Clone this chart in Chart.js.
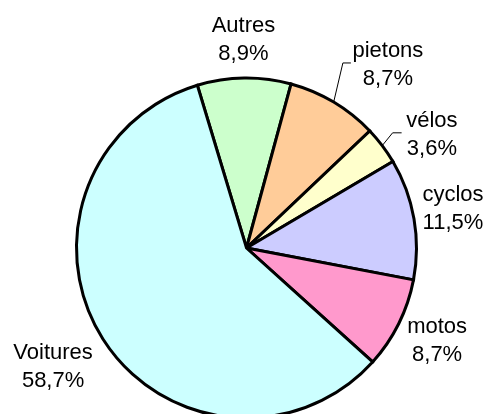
<!DOCTYPE html>
<html>
<head>
<meta charset="utf-8">
<script src="https://cdn.jsdelivr.net/npm/chart.js@4"></script>
<style>
  html, body { margin: 0; padding: 0; background: #fff; overflow: hidden; width: 487px; height: 414px; }
  canvas { display: block; }
</style>
</head>
<body>
<canvas id="c" width="487" height="430"></canvas>
<script>
// ---- data ----
const categories = ["Autres", "pietons", "vélos", "cyclos", "motos", "Voitures"];
const shares = [8.9, 8.7, 3.6, 11.5, 8.7, 58.7];

// ---- styles ----
const sliceColors = ["#CCFFCC", "#FFCC99", "#FFFFCC", "#CCCCFF", "#FF99CC", "#CCFFFF"];
// label nudges (from slice edge point at mid-angle to label first-line baseline centre)
const labelNudge = [[-0.7, -46], [54.2, -45.1], [49.7, -18.8], [39, -17.4], [38.4, 9.2], [-49.8, 20]];
// leader elbow relative to label anchor: [elbowDx, endDx, dy] or null
const leaders = [null, [-45, -37, 6], [-39.3, -30.3, 6], null, null, null];
const FONT = '22px "Liberation Sans", Arial, sans-serif';
const LINE_H = 28;

const labelPlugin = {
  id: 'outLabels',
  afterDatasetsDraw(chart) {
    const ctx = chart.ctx;
    const meta = chart.getDatasetMeta(0);
    ctx.save();
    ctx.font = FONT;
    ctx.fillStyle = '#000';
    ctx.textAlign = 'center';
    ctx.textBaseline = 'alphabetic';
    meta.data.forEach((arc, i) => {
      const p = arc.getProps(['x', 'y', 'startAngle', 'endAngle', 'outerRadius'], true);
      const mid = (p.startAngle + p.endAngle) / 2;
      const ex = p.x + Math.cos(mid) * p.outerRadius;
      const ey = p.y + Math.sin(mid) * p.outerRadius;
      const lx = ex + labelNudge[i][0];
      const ly = ey + labelNudge[i][1];
      const txt = shares[i].toFixed(1).replace('.', ',') + '%';
      ctx.fillText(categories[i], lx, ly);
      ctx.fillText(txt, lx, ly + LINE_H);
      const L = leaders[i];
      if (L) {
        ctx.beginPath();
        ctx.strokeStyle = '#000';
        ctx.lineWidth = 1;
        ctx.moveTo(ex, ey);
        ctx.lineTo(lx + L[0], ly + L[2]);
        ctx.lineTo(lx + L[1], ly + L[2]);
        ctx.stroke();
      }
    });
    ctx.restore();
  }
};

new Chart(document.getElementById('c'), {
  type: 'pie',
  data: {
    labels: categories,
    datasets: [{
      data: shares,
      backgroundColor: sliceColors,
      borderColor: '#000',
      borderWidth: 3,
      borderJoinStyle: 'miter'
    }]
  },
  options: {
    responsive: false,
    animation: false,
    rotation: -16.8,
    layout: { padding: { left: 75, right: 69, top: 76.5, bottom: 10.5 } },
    plugins: {
      legend: { display: false },
      tooltip: { enabled: false },
      title: { display: false }
    }
  },
  plugins: [labelPlugin]
});
</script>
</body>
</html>
